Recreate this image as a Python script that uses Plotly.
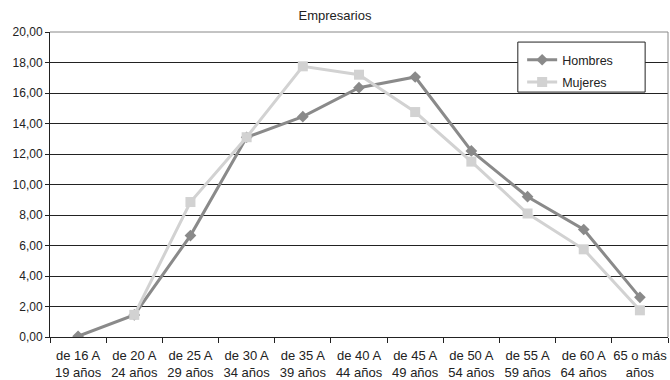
import plotly.graph_objects as go

# Age brackets (two-line labels)
grupos = [
    "de 16 A<br>19 años", "de 20 A<br>24 años", "de 25 A<br>29 años",
    "de 30 A<br>34 años", "de 35 A<br>39 años", "de 40 A<br>44 años",
    "de 45 A<br>49 años", "de 50 A<br>54 años", "de 55 A<br>59 años",
    "de 60 A<br>64 años", "65 o más<br>años",
]

# Share of business owners per age bracket (%)
hombres = [0.05, 1.45, 6.65, 13.1, 14.45, 16.35, 17.05, 12.2, 9.2, 7.05, 2.6]
mujeres = [None, 1.45, 8.85, 13.1, 17.75, 17.2, 14.75, 11.5, 8.1, 5.75, 1.75]

y_ticks = [0, 2, 4, 6, 8, 10, 12, 14, 16, 18, 20]

font_family = "Liberation Sans, Arial, sans-serif"

fig = go.Figure()
fig.add_trace(go.Scatter(
    x=grupos, y=hombres, name="Hombres", mode="lines+markers", legendgroup="h",
    line=dict(color="#8a8a8a", width=3),
    marker=dict(symbol="diamond", size=9, color="#8a8a8a"),
))
fig.add_trace(go.Scatter(
    x=grupos, y=mujeres, name="Mujeres", mode="lines+markers", legendgroup="m",
    line=dict(color="#d2d2d2", width=3),
    marker=dict(symbol="square", size=10, color="#d2d2d2"),
))

fig.update_layout(
    width=670, height=380,
    margin=dict(l=50, r=2, t=32, b=43),
    paper_bgcolor="white", plot_bgcolor="white",
    separators=",.",
    font=dict(family=font_family, size=12, color="#222"),
    title=dict(text="Empresarios", x=0.5, xanchor="center", y=0.96, yanchor="middle",
               font=dict(size=13, color="#222")),
    showlegend=True,
    legend=dict(
        x=0.764, y=0.957, xanchor="left", yanchor="top",
        bgcolor="rgba(0,0,0,0)", borderwidth=0,
        font=dict(size=12.5, color="#222"),
        itemwidth=30, tracegroupgap=3,
    ),
)

fig.update_xaxes(
    type="category", range=[-0.5, 10.5],
    tickson="boundaries", ticks="outside", ticklen=5, tickcolor="#222",
    showline=True, linecolor="#222", linewidth=1,
    showgrid=False, mirror=False,
    tickangle=0, automargin=False,
    ticklabelstandoff=6,
    tickfont=dict(size=13, color="#222"),
)
fig.update_yaxes(
    range=[0, 20], tickvals=y_ticks, tickformat=".2f",
    ticks="outside", ticklen=4, tickcolor="#222",
    showline=True, linecolor="#222", linewidth=1,
    showgrid=True, gridcolor="#222", gridwidth=1,
    zeroline=False, automargin=False,
    tickfont=dict(size=12, color="#222"),
)

# Gray frame on the top and right of the plot area
fig.add_shape(type="line", xref="paper", yref="paper", x0=0, x1=1, y0=1, y1=1,
              line=dict(color="#888", width=1))
fig.add_shape(type="line", xref="paper", yref="paper", x0=1, x1=1, y0=0, y1=1,
              line=dict(color="#888", width=1))
# Legend frame
fig.add_shape(type="rect", xref="paper", yref="paper",
              x0=0.757, x1=0.963, y0=0.803, y1=0.967,
              fillcolor="white", line=dict(color="#222", width=1), layer="above")

fig.write_html("out.html")
